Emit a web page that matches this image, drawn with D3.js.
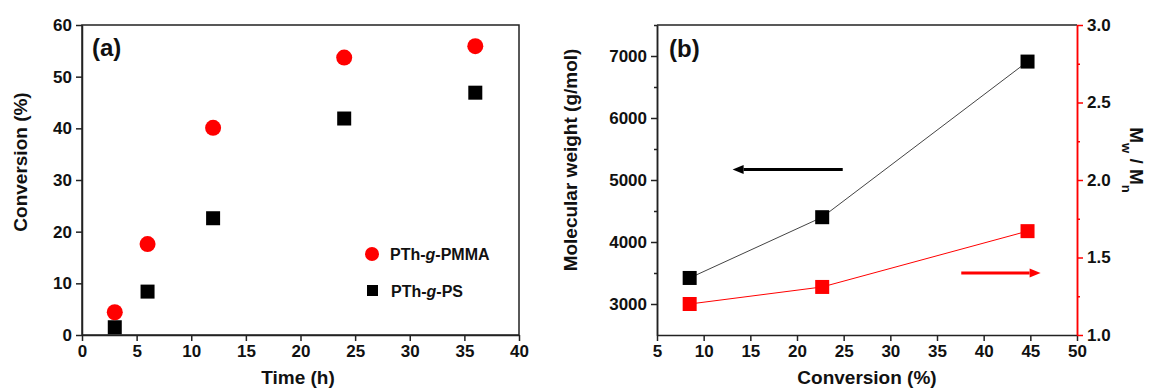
<!DOCTYPE html>
<html>
<head>
<meta charset="utf-8">
<script src="https://cdn.jsdelivr.net/npm/d3@7"></script>
<style>
  body { margin: 0; background: #fff; }
  svg text { font-family: "Liberation Sans", Arial, sans-serif; font-weight: bold; fill: #111; }
</style>
</head>
<body>
<svg id="fig" width="1149" height="390"></svg>
<script>
// Data, panel (a)
const timeH = [3, 6, 12, 24, 36];
const pmmaConv = [4.4, 17.6, 40.1, 53.7, 55.9];
const psConv = [1.5, 8.4, 22.6, 41.9, 46.9];
const timeTicks = [0, 5, 10, 15, 20, 25, 30, 35, 40];
const convTicks = [0, 10, 20, 30, 40, 50, 60];

// Data, panel (b)
const convB = [8.5, 22.7, 44.7];
const molWeight = [3420, 4400, 6910];
const pdi = [1.20, 1.31, 1.67];
const convBTicks = [5, 10, 15, 20, 25, 30, 35, 40, 45, 50];
const mwTicks = [3000, 4000, 5000, 6000, 7000];
const mwMinor = [3500, 4500, 5500, 6500, 7500];
const pdiTicks = [1.0, 1.5, 2.0, 2.5, 3.0];
const pdiMinor = [1.25, 1.75, 2.25, 2.75];

const svg = d3.select('#fig');
const axisColor = '#222';
const red = '#ff0000';

function styleAxis(g, color) {
    g.select('.domain').attr('stroke', color).attr('stroke-width', 1.5);
    g.selectAll('.tick line').attr('stroke', color).attr('stroke-width', 1.5);
    g.selectAll('.tick text').style('font-size', '17px').attr('fill', '#111');
}

// ---------- panel (a) ----------
const a = { left: 82, right: 519, top: 25, bottom: 335 };
const xa = d3.scaleLinear().domain([0, 40]).range([a.left, a.right]);
const ya = d3.scaleLinear().domain([0, 60]).range([a.bottom, a.top]);

svg.append('rect')
    .attr('x', a.left).attr('y', a.top)
    .attr('width', a.right - a.left).attr('height', a.bottom - a.top)
    .attr('fill', 'none').attr('stroke', axisColor).attr('stroke-width', 1.5);

svg.append('g')
    .attr('transform', `translate(0,${a.bottom})`)
    .call(d3.axisBottom(xa).tickValues(timeTicks).tickSize(6).tickSizeOuter(0).tickPadding(4))
    .call(g => styleAxis(g, axisColor));

svg.append('g')
    .attr('transform', `translate(${a.left},0)`)
    .call(d3.axisLeft(ya).tickValues(convTicks).tickSize(6).tickSizeOuter(0).tickPadding(4))
    .call(g => styleAxis(g, axisColor));

svg.selectAll('.ps')
    .data(timeH.map((t, i) => ({ t, v: psConv[i] })))
    .enter().append('rect')
    .attr('x', d => xa(d.t) - 7)
    .attr('y', d => ya(d.v) - 7)
    .attr('width', 14).attr('height', 14)
    .attr('fill', '#000');

svg.selectAll('.pmma')
    .data(timeH.map((t, i) => ({ t, v: pmmaConv[i] })))
    .enter().append('circle')
    .attr('cx', d => xa(d.t))
    .attr('cy', d => ya(d.v))
    .attr('r', 8)
    .attr('fill', red);

svg.append('text')
    .attr('x', 92).attr('y', 56)
    .style('font-size', '24px')
    .text('(a)');

svg.append('text')
    .attr('transform', `translate(20,162) rotate(-90)`)
    .attr('text-anchor', 'middle')
    .attr('dy', '0.35em')
    .style('font-size', '19px')
    .text('Conversion (%)');

svg.append('text')
    .attr('x', 298).attr('y', 384)
    .attr('text-anchor', 'middle')
    .style('font-size', '19px')
    .text('Time (h)');

// legend
const legend = svg.append('g');
legend.append('circle').attr('cx', 372).attr('cy', 254).attr('r', 7).attr('fill', red);
legend.append('rect').attr('x', 367).attr('y', 285).attr('width', 11).attr('height', 11).attr('fill', '#000');
const l1 = legend.append('text').attr('x', 390).attr('y', 254).attr('dy', '0.35em').style('font-size', '16px');
l1.append('tspan').text('PTh-');
l1.append('tspan').style('font-style', 'italic').text('g');
l1.append('tspan').text('-PMMA');
const l2 = legend.append('text').attr('x', 391).attr('y', 291).attr('dy', '0.35em').style('font-size', '16px');
l2.append('tspan').text('PTh-');
l2.append('tspan').style('font-style', 'italic').text('g');
l2.append('tspan').text('-PS');

// ---------- panel (b) ----------
const b = { left: 657, right: 1077, top: 25, bottom: 335 };
const xb = d3.scaleLinear().domain([5, 50]).range([b.left, b.right]);
const yb = d3.scaleLinear().domain([2500, 7500]).range([b.bottom, b.top]);
const yr = d3.scaleLinear().domain([1.0, 3.0]).range([b.bottom, b.top]);

svg.append('line')
    .attr('x1', b.left).attr('x2', b.right).attr('y1', b.top).attr('y2', b.top)
    .attr('stroke', axisColor).attr('stroke-width', 1.5);

svg.append('g')
    .attr('transform', `translate(0,${b.bottom})`)
    .call(d3.axisBottom(xb).tickValues(convBTicks).tickSize(6).tickSizeOuter(0).tickPadding(4))
    .call(g => styleAxis(g, axisColor));

svg.append('g')
    .attr('transform', `translate(${b.left},0)`)
    .call(d3.axisLeft(yb).tickValues(mwMinor).tickSize(3).tickSizeOuter(0).tickFormat(''))
    .call(g => styleAxis(g, axisColor));

svg.append('g')
    .attr('transform', `translate(${b.left},0)`)
    .call(d3.axisLeft(yb).tickValues(mwTicks).tickSize(6).tickSizeOuter(0).tickPadding(4).tickFormat(d3.format('d')))
    .call(g => styleAxis(g, axisColor));

svg.append('g')
    .attr('transform', `translate(${b.right},0)`)
    .call(d3.axisRight(yr).tickValues(pdiMinor).tickSize(3).tickSizeOuter(0).tickFormat(''))
    .call(g => styleAxis(g, red));

svg.append('g')
    .attr('transform', `translate(${b.right},0)`)
    .call(d3.axisRight(yr).tickValues(pdiTicks).tickSize(6).tickSizeOuter(0).tickPadding(4).tickFormat(d3.format('.1f')))
    .call(g => styleAxis(g, red));

const mwData = convB.map((c, i) => ({ c, v: molWeight[i] }));
const pdiData = convB.map((c, i) => ({ c, v: pdi[i] }));

svg.append('path')
    .datum(mwData)
    .attr('fill', 'none').attr('stroke', '#444').attr('stroke-width', 1)
    .attr('d', d3.line().x(d => xb(d.c)).y(d => yb(d.v)));

svg.append('path')
    .datum(pdiData)
    .attr('fill', 'none').attr('stroke', red).attr('stroke-width', 1)
    .attr('d', d3.line().x(d => xb(d.c)).y(d => yr(d.v)));

svg.selectAll('.mw')
    .data(mwData)
    .enter().append('rect')
    .attr('x', d => xb(d.c) - 7).attr('y', d => yb(d.v) - 7)
    .attr('width', 14).attr('height', 14)
    .attr('fill', '#000');

svg.selectAll('.pdi')
    .data(pdiData)
    .enter().append('rect')
    .attr('x', d => xb(d.c) - 7).attr('y', d => yr(d.v) - 7)
    .attr('width', 14).attr('height', 14)
    .attr('fill', red);

// arrows pointing to the matching axis
function arrow(x1, x2, y, color) {
    const dir = Math.sign(x2 - x1);
    const head = 11;
    svg.append('line')
        .attr('x1', x1).attr('x2', x2 - dir * head)
        .attr('y1', y).attr('y2', y)
        .attr('stroke', color).attr('stroke-width', 3);
    svg.append('path')
        .attr('d', `M${x2},${y} L${x2 - dir * head},${y - 4.5} L${x2 - dir * head},${y + 4.5} Z`)
        .attr('fill', color);
}
arrow(xb(24.9), xb(13.1), yb(5170), '#000');
arrow(xb(37.6), xb(46.1), yr(1.40), red);

svg.append('text')
    .attr('x', 669).attr('y', 57)
    .style('font-size', '24px')
    .text('(b)');

svg.append('text')
    .attr('transform', `translate(570,160) rotate(-90)`)
    .attr('text-anchor', 'middle')
    .attr('dy', '0.35em')
    .style('font-size', '19px')
    .text('Molecular weight (g/mol)');

const rl = svg.append('text')
    .attr('transform', `translate(1137,160) rotate(90)`)
    .attr('text-anchor', 'middle')
    .attr('dy', '0.35em')
    .style('font-size', '19px');
rl.append('tspan').text('M');
rl.append('tspan').attr('baseline-shift', 'sub').style('font-size', '13px').text('w');
rl.append('tspan').text(' / M');
rl.append('tspan').attr('baseline-shift', 'sub').style('font-size', '13px').text('n');

svg.append('text')
    .attr('x', 867).attr('y', 384)
    .attr('text-anchor', 'middle')
    .style('font-size', '19px')
    .text('Conversion (%)');
</script>
</body>
</html>
